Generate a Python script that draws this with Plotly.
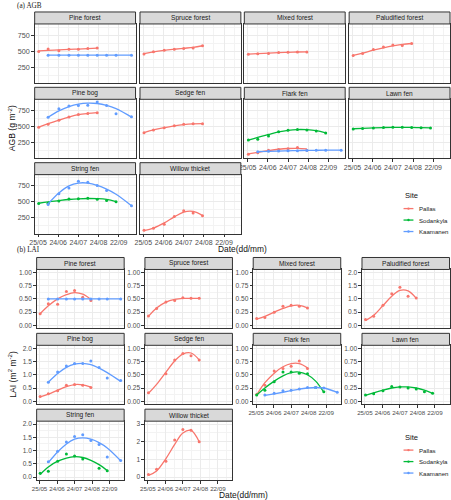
import plotly.graph_objects as go

W, H = 451, 500

# ---------------- data ----------------
DATE_TICKS = [145, 175, 205, 235, 265]
DATE_LABELS = ["25/05", "24/06", "24/07", "24/08", "22/09"]
DATE_MINOR = [160, 190, 220, 250, 280]
SITES = ["Pallas", "Sodankyla", "Kaamanen"]
SITE_COLORS = {"Pallas": "#F8766D", "Sodankyla": "#00BA38", "Kaamanen": "#619CFF"}

PALLAS_DAYS = [146, 160, 176, 191, 205, 219, 233]
SODANKYLA_DAYS = [146, 160, 176, 191, 205, 219, 233, 247, 261]
KAAMANEN_DAYS = [160, 176, 191, 205, 219, 233, 247, 261, 284]

PANELS = ["Pine forest", "Spruce forest", "Mixed forest", "Paludified forest",
          "Pine bog", "Sedge fen", "Flark fen", "Lawn fen",
          "String fen", "Willow thicket"]

# AGB (g m-2): observations and smoothed fits
agb_pine_forest_pallas_obs = [495, 535, 505, 530, 530, 540, 550]
agb_pine_forest_pallas_fit = [505, 512, 520, 527, 533, 540, 548]
agb_pine_forest_kaamanen_obs = [437, 437, 437, 437, 437, 437, 437, 437, 437]
agb_pine_forest_kaamanen_fit = [437, 437, 437, 437, 437, 437, 437, 437, 437]
agb_spruce_forest_pallas_obs = [457, 490, 515, 530, 540, 550, 585]
agb_spruce_forest_pallas_fit = [460, 488, 512, 530, 545, 560, 585]
agb_mixed_forest_pallas_obs = [450, 458, 462, 478, 483, 488, 488]
agb_mixed_forest_pallas_fit = [452, 460, 468, 476, 482, 487, 490]
agb_paludified_pallas_obs = [432, 463, 526, 567, 598, 588, 619]
agb_paludified_pallas_fit = [435, 470, 515, 553, 583, 605, 620]
agb_pine_bog_pallas_obs = [490, 535, 600, 650, 690, 705, 715]
agb_pine_bog_pallas_fit = [492, 545, 600, 648, 685, 705, 718]
agb_pine_bog_kaamanen_obs = [645, 780, 820, 830, 835, 885, 830, 700, 655]
agb_pine_bog_kaamanen_fit = [645, 745, 812, 851, 867, 861, 832, 780, 648]
agb_sedge_fen_pallas_obs = [403, 445, 481, 512, 534, 543, 543]
agb_sedge_fen_pallas_fit = [405, 447, 481, 510, 530, 541, 545]
agb_flark_fen_pallas_obs = [65, 90, 128, 140, 150, 169, 128]
agb_flark_fen_pallas_fit = [70, 95, 122, 143, 155, 157, 150]
agb_flark_fen_sodankyla_obs = [289, 300, 351, 418, 440, 455, 445, 429, 398]
agb_flark_fen_sodankyla_fit = [285, 330, 375, 415, 440, 452, 450, 435, 400]
agb_flark_fen_kaamanen_obs = [105, 110, 115, 118, 120, 125, 128, 128, 126]
agb_flark_fen_kaamanen_fit = [105, 110, 115, 119, 122, 125, 127, 128, 128]
agb_lawn_fen_sodankyla_obs = [462, 468, 478, 485, 490, 490, 486, 482, 478]
agb_lawn_fen_sodankyla_fit = [465, 472, 479, 484, 487, 487, 485, 482, 478]
agb_string_fen_sodankyla_obs = [475, 480, 515, 545, 548, 555, 540, 520, 500]
agb_string_fen_sodankyla_fit = [478, 500, 520, 537, 548, 553, 550, 538, 505]
agb_string_fen_kaamanen_obs = [457, 626, 716, 822, 806, 758, 679, None, 440]
agb_string_fen_kaamanen_fit = [470, 640, 750, 795, 795, 760, 700, 620, 440]
agb_willow_pallas_obs = [54, 86, 149, 270, 361, 324, 281]
agb_willow_pallas_fit = [48, 88, 170, 265, 340, 350, 285]

# LAI (m2 m-2): observations and smoothed fits
lai_pine_forest_pallas_obs = [0.22, 0.41, 0.40, 0.64, 0.66, 0.53, 0.47]
lai_pine_forest_pallas_fit = [0.22, 0.37, 0.50, 0.58, 0.62, 0.59, 0.49]
lai_pine_forest_kaamanen_obs = [0.50, 0.50, 0.50, 0.50, 0.50, 0.50, 0.50, 0.50, 0.50]
lai_pine_forest_kaamanen_fit = [0.50, 0.50, 0.50, 0.50, 0.50, 0.50, 0.50, 0.50, 0.50]
lai_spruce_forest_pallas_obs = [0.18, 0.32, 0.44, 0.47, 0.52, 0.51, 0.51]
lai_spruce_forest_pallas_fit = [0.17, 0.33, 0.44, 0.49, 0.51, 0.51, 0.51]
lai_mixed_forest_pallas_obs = [0.13, 0.15, 0.25, 0.36, 0.38, 0.36, 0.33]
lai_mixed_forest_pallas_fit = [0.12, 0.17, 0.25, 0.32, 0.37, 0.38, 0.33]
lai_paludified_pallas_obs = [0.22, 0.35, 0.76, 1.19, 1.44, 1.10, 1.03]
lai_paludified_pallas_fit = [0.18, 0.38, 0.75, 1.10, 1.32, 1.30, 1.02]
lai_pine_bog_pallas_obs = [0.18, 0.28, 0.40, 0.60, 0.63, 0.60, 0.52]
lai_pine_bog_pallas_fit = [0.17, 0.27, 0.42, 0.55, 0.63, 0.62, 0.53]
lai_pine_bog_kaamanen_obs = [0.72, 1.10, 1.33, 1.42, 1.42, 1.52, 1.27, 0.88, 0.78]
lai_pine_bog_kaamanen_fit = [0.72, 1.05, 1.28, 1.40, 1.43, 1.38, 1.25, 1.08, 0.75]
lai_sedge_fen_pallas_obs = [0.16, None, 0.52, 0.78, 0.90, 0.86, 0.78]
lai_sedge_fen_pallas_fit = [0.15, 0.32, 0.55, 0.76, 0.89, 0.91, 0.78]
lai_flark_fen_pallas_obs = [0.13, 0.30, 0.57, 0.62, 0.66, 0.76, 0.62]
lai_flark_fen_pallas_fit = [0.12, 0.35, 0.53, 0.65, 0.71, 0.71, 0.63]
lai_flark_fen_sodankyla_obs = [0.12, 0.21, 0.37, 0.55, 0.55, 0.53, 0.52, 0.26, 0.18]
lai_flark_fen_sodankyla_fit = [0.12, 0.25, 0.38, 0.48, 0.54, 0.55, 0.50, 0.38, 0.17]
lai_flark_fen_kaamanen_obs = [0.12, 0.15, 0.20, 0.21, 0.23, 0.26, 0.26, 0.25, 0.17]
lai_flark_fen_kaamanen_fit = [0.11, 0.14, 0.17, 0.20, 0.23, 0.25, 0.26, 0.25, 0.17]
lai_lawn_fen_sodankyla_obs = [0.12, 0.14, 0.20, 0.28, 0.27, 0.25, 0.23, 0.18, 0.15]
lai_lawn_fen_sodankyla_fit = [0.11, 0.16, 0.21, 0.25, 0.27, 0.27, 0.25, 0.21, 0.15]
lai_string_fen_sodankyla_obs = [0.15, 0.22, 0.60, 0.87, 0.80, 0.68, None, 0.33, 0.24]
lai_string_fen_sodankyla_fit = [0.10, 0.38, 0.60, 0.72, 0.77, 0.74, 0.63, 0.47, 0.25]
lai_string_fen_kaamanen_obs = [0.58, 0.98, 1.32, 1.53, 1.60, 1.38, 1.23, 0.76, 0.63]
lai_string_fen_kaamanen_fit = [0.55, 0.95, 1.25, 1.43, 1.48, 1.43, 1.30, 1.10, 0.62]
lai_willow_pallas_obs = [0.15, 0.44, 0.90, 2.10, 2.70, 2.65, 2.00]
lai_willow_pallas_fit = [0.10, 0.35, 1.05, 1.85, 2.50, 2.65, 2.00]

# y-axis scales
AGB_TICKS = [250, 500, 750]
AGB_MINOR = [125, 375, 625, 875]
LAI1_TICKS = [0, 0.25, 0.5, 0.75, 1.0]
LAI1_LABELS = ["0.00", "0.25", "0.50", "0.75", "1.00"]
LAI2_TICKS = [0, 0.5, 1.0, 1.5, 2.0]
LAI2_LABELS = ["0.0", "0.5", "1.0", "1.5", "2.0"]
LAI3_TICKS = [0, 1, 2, 3]
LAI3_LABELS = ["0", "1", "2", "3"]

DAYS = {"Pallas": PALLAS_DAYS, "Sodankyla": SODANKYLA_DAYS, "Kaamanen": KAAMANEN_DAYS}

AGB_SERIES = {
    "Pine forest": [("Pallas", agb_pine_forest_pallas_obs, agb_pine_forest_pallas_fit),
                    ("Kaamanen", agb_pine_forest_kaamanen_obs, agb_pine_forest_kaamanen_fit)],
    "Spruce forest": [("Pallas", agb_spruce_forest_pallas_obs, agb_spruce_forest_pallas_fit)],
    "Mixed forest": [("Pallas", agb_mixed_forest_pallas_obs, agb_mixed_forest_pallas_fit)],
    "Paludified forest": [("Pallas", agb_paludified_pallas_obs, agb_paludified_pallas_fit)],
    "Pine bog": [("Pallas", agb_pine_bog_pallas_obs, agb_pine_bog_pallas_fit),
                 ("Kaamanen", agb_pine_bog_kaamanen_obs, agb_pine_bog_kaamanen_fit)],
    "Sedge fen": [("Pallas", agb_sedge_fen_pallas_obs, agb_sedge_fen_pallas_fit)],
    "Flark fen": [("Pallas", agb_flark_fen_pallas_obs, agb_flark_fen_pallas_fit),
                  ("Sodankyla", agb_flark_fen_sodankyla_obs, agb_flark_fen_sodankyla_fit),
                  ("Kaamanen", agb_flark_fen_kaamanen_obs, agb_flark_fen_kaamanen_fit)],
    "Lawn fen": [("Sodankyla", agb_lawn_fen_sodankyla_obs, agb_lawn_fen_sodankyla_fit)],
    "String fen": [("Sodankyla", agb_string_fen_sodankyla_obs, agb_string_fen_sodankyla_fit),
                   ("Kaamanen", agb_string_fen_kaamanen_obs, agb_string_fen_kaamanen_fit)],
    "Willow thicket": [("Pallas", agb_willow_pallas_obs, agb_willow_pallas_fit)],
}
LAI_SERIES = {
    "Pine forest": [("Pallas", lai_pine_forest_pallas_obs, lai_pine_forest_pallas_fit),
                    ("Kaamanen", lai_pine_forest_kaamanen_obs, lai_pine_forest_kaamanen_fit)],
    "Spruce forest": [("Pallas", lai_spruce_forest_pallas_obs, lai_spruce_forest_pallas_fit)],
    "Mixed forest": [("Pallas", lai_mixed_forest_pallas_obs, lai_mixed_forest_pallas_fit)],
    "Paludified forest": [("Pallas", lai_paludified_pallas_obs, lai_paludified_pallas_fit)],
    "Pine bog": [("Pallas", lai_pine_bog_pallas_obs, lai_pine_bog_pallas_fit),
                 ("Kaamanen", lai_pine_bog_kaamanen_obs, lai_pine_bog_kaamanen_fit)],
    "Sedge fen": [("Pallas", lai_sedge_fen_pallas_obs, lai_sedge_fen_pallas_fit)],
    "Flark fen": [("Pallas", lai_flark_fen_pallas_obs, lai_flark_fen_pallas_fit),
                  ("Sodankyla", lai_flark_fen_sodankyla_obs, lai_flark_fen_sodankyla_fit),
                  ("Kaamanen", lai_flark_fen_kaamanen_obs, lai_flark_fen_kaamanen_fit)],
    "Lawn fen": [("Sodankyla", lai_lawn_fen_sodankyla_obs, lai_lawn_fen_sodankyla_fit)],
    "String fen": [("Sodankyla", lai_string_fen_sodankyla_obs, lai_string_fen_sodankyla_fit),
                   ("Kaamanen", lai_string_fen_kaamanen_obs, lai_string_fen_kaamanen_fit)],
    "Willow thicket": [("Pallas", lai_willow_pallas_obs, lai_willow_pallas_fit)],
}
LAI_SCALE = {
    "Pine forest": (LAI1_TICKS, LAI1_LABELS, [-0.055, 1.055]),
    "Spruce forest": (LAI1_TICKS, LAI1_LABELS, [-0.055, 1.055]),
    "Mixed forest": (LAI1_TICKS, LAI1_LABELS, [-0.055, 1.055]),
    "Paludified forest": (LAI2_TICKS, LAI2_LABELS, [-0.11, 2.11]),
    "Pine bog": (LAI2_TICKS, LAI2_LABELS, [-0.11, 2.11]),
    "Sedge fen": (LAI1_TICKS, LAI1_LABELS, [-0.055, 1.055]),
    "Flark fen": (LAI1_TICKS, LAI1_LABELS, [-0.055, 1.055]),
    "Lawn fen": (LAI1_TICKS, LAI1_LABELS, [-0.055, 1.055]),
    "String fen": (LAI2_TICKS, LAI2_LABELS, [-0.11, 2.11]),
    "Willow thicket": (LAI3_TICKS, LAI3_LABELS, [-0.165, 3.165]),
}

# ---------------- layout geometry (px) ----------------
STRIP_H = 12
PLOT_H = 59
AGB_COL_LEFT = [30, 136.5, 242, 348]
AGB_COL_W = 102
AGB_ROW_TOP = [11, 86.5, 162]
LAI_COL_LEFT = [32, 141.5, 251, 361]
LAI_COL_W = 88.5
LAI_ROW_TOP = [257, 333, 409]
X_RANGE = [140, 290]

FONT = "Liberation Sans, Arial, sans-serif"
SERIF = "Liberation Serif, Times New Roman, serif"
GRID = "#EBEBEB"
MINOR_GRID = "#F3F3F3"
DARK = "#333333"


def px(x):
    return x / W


def py(y):
    return 1 - y / H


fig = go.Figure()
layout = {}
shapes = []
annotations = []


def add_panel(idx, name, left, width, top, series, yticks, ylabels, yrange,
              yminor, show_y, show_x, xfont, yfont):
    ax = "" if idx == 1 else str(idx)
    xdom = [px(left), px(left + width)]
    ydom = [py(top + STRIP_H + PLOT_H), py(top + STRIP_H)]
    layout["xaxis" + ax] = dict(
        domain=xdom, anchor="y" + ax, range=X_RANGE,
        tickmode="array", tickvals=DATE_TICKS, ticktext=DATE_LABELS,
        showticklabels=show_x, ticks="outside" if show_x else "",
        ticklen=2.5, tickwidth=1, tickcolor=DARK, tickangle=0,
        tickfont=dict(family=FONT, size=xfont, color="#4D4D4D"),
        showgrid=True, gridcolor=GRID, gridwidth=1,
        minor=dict(tickmode="array", tickvals=DATE_MINOR, showgrid=True,
                   gridcolor=MINOR_GRID, gridwidth=0.6, ticks=""),
        showline=True, mirror=True, linecolor=DARK, linewidth=1,
        zeroline=False, fixedrange=True)
    layout["yaxis" + ax] = dict(
        domain=ydom, anchor="x" + ax, range=yrange,
        tickmode="array", tickvals=yticks, ticktext=ylabels,
        showticklabels=show_y, ticks="outside" if show_y else "",
        ticklen=2.5, tickwidth=1, tickcolor=DARK,
        tickfont=dict(family=FONT, size=yfont, color="#4D4D4D"),
        showgrid=True, gridcolor=GRID, gridwidth=1,
        minor=dict(tickmode="array", tickvals=yminor, showgrid=True,
                   gridcolor=MINOR_GRID, gridwidth=0.6, ticks=""),
        showline=True, mirror=True, linecolor=DARK, linewidth=1,
        zeroline=False, fixedrange=True)
    # strip
    shapes.append(dict(type="rect", xref="paper", yref="paper",
                       x0=px(left), x1=px(left + width),
                       y0=py(top + STRIP_H), y1=py(top),
                       fillcolor="#D9D9D9", line=dict(color=DARK, width=1)))
    annotations.append(dict(text=name, xref="paper", yref="paper",
                            x=px(left + width / 2), y=py(top + STRIP_H / 2),
                            xanchor="center", yanchor="middle", showarrow=False,
                            font=dict(family=FONT, size=6.6, color="#1A1A1A")))
    for site, obs, fit in series:
        days = DAYS[site]
        col = SITE_COLORS[site]
        fig.add_trace(go.Scatter(x=days, y=fit, mode="lines",
                                 line=dict(color=col, width=1.3, shape="spline", smoothing=1.0),
                                 xaxis="x" + ax, yaxis="y" + ax, showlegend=False,
                                 hoverinfo="skip"))
        fig.add_trace(go.Scatter(x=days, y=obs, mode="markers",
                                 marker=dict(color=col, size=3),
                                 xaxis="x" + ax, yaxis="y" + ax, showlegend=False,
                                 name=site))


# which panels show x tick labels: bottom panel in each column
BOTTOM = {"String fen", "Willow thicket", "Flark fen", "Lawn fen"}

idx = 1
for i, name in enumerate(PANELS):
    r, c = divmod(i, 4)
    add_panel(idx, name, AGB_COL_LEFT[c], AGB_COL_W, AGB_ROW_TOP[r],
              AGB_SERIES[name], AGB_TICKS, [str(v) for v in AGB_TICKS], [3, 927],
              AGB_MINOR, c == 0, name in BOTTOM, 7, 7.2)
    idx += 1
for i, name in enumerate(PANELS):
    r, c = divmod(i, 4)
    ticks, labels, rng = LAI_SCALE[name]
    minor = [(a + b) / 2 for a, b in zip(ticks[:-1], ticks[1:])]
    add_panel(idx, name, LAI_COL_LEFT[c], LAI_COL_W, LAI_ROW_TOP[r],
              LAI_SERIES[name], ticks, labels, rng, minor, True, name in BOTTOM, 6.2, 6.6)
    idx += 1

# titles
annotations += [
    dict(text="(a) AGB", xref="paper", yref="paper", x=px(10.5), y=py(5),
         xanchor="left", yanchor="middle", showarrow=False,
         font=dict(family=SERIF, size=7.2, color="#222222")),
    dict(text="(b) LAI", xref="paper", yref="paper", x=px(10.5), y=py(249.5),
         xanchor="left", yanchor="middle", showarrow=False,
         font=dict(family=SERIF, size=7.2, color="#222222")),
    dict(text="AGB (g m<sup>-2</sup>)", xref="paper", yref="paper", x=px(7.5), y=py(127),
         xanchor="center", yanchor="middle", textangle=-90, showarrow=False,
         font=dict(family=FONT, size=8.6, color="#111111")),
    dict(text="LAI (m<sup>2</sup> m<sup>-2</sup>)", xref="paper", yref="paper", x=px(7.5), y=py(374),
         xanchor="center", yanchor="middle", textangle=-90, showarrow=False,
         font=dict(family=FONT, size=8.6, color="#111111")),
    dict(text="Date(dd/mm)", xref="paper", yref="paper", x=px(240), y=py(248.5),
         xanchor="center", yanchor="middle", showarrow=False,
         font=dict(family=FONT, size=8.4, color="#111111")),
    dict(text="Date(dd/mm)", xref="paper", yref="paper", x=px(241), y=py(495),
         xanchor="center", yanchor="middle", showarrow=False,
         font=dict(family=FONT, size=8.4, color="#111111")),
]

# legends
for top in (195, 437):
    annotations.append(dict(text="Site", xref="paper", yref="paper", x=px(402), y=py(top),
                            xanchor="left", yanchor="middle", showarrow=False,
                            font=dict(family=FONT, size=7.6, color="#111111")))
    for k, site in enumerate(SITES):
        yy = top + 13 + k * 11.5
        col = SITE_COLORS[site]
        shapes.append(dict(type="line", xref="paper", yref="paper",
                           x0=px(403), x1=px(413), y0=py(yy), y1=py(yy),
                           line=dict(color=col, width=1.3)))
        shapes.append(dict(type="circle", xref="paper", yref="paper",
                           x0=px(406.8), x1=px(409.2), y0=py(yy + 1.2), y1=py(yy - 1.2),
                           fillcolor=col, line=dict(color=col, width=0)))
        annotations.append(dict(text=site, xref="paper", yref="paper", x=px(416.5), y=py(yy),
                                xanchor="left", yanchor="middle", showarrow=False,
                                font=dict(family=FONT, size=6.1, color="#222222")))

fig.update_layout(
    width=W, height=H, margin=dict(l=0, r=0, t=0, b=0),
    paper_bgcolor="white", plot_bgcolor="white",
    showlegend=False, shapes=shapes, annotations=annotations, **layout)

fig.write_html("out.html", config={"displayModeBar": False},
               post_script="document.body.style.margin='0';"
                           "document.body.style.overflow='hidden';")
